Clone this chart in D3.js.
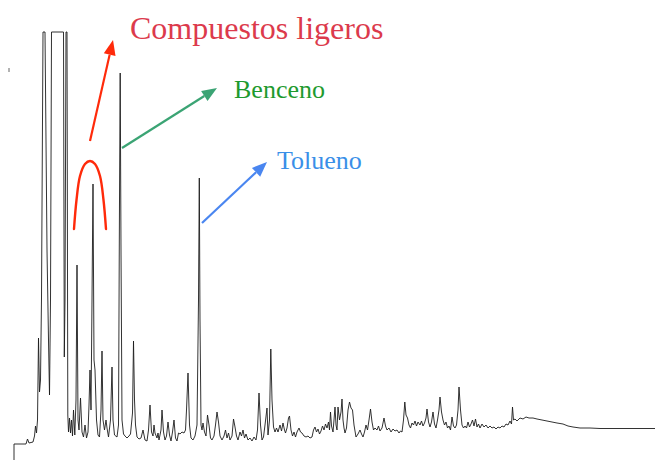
<!DOCTYPE html>
<html>
<head>
<meta charset="utf-8">
<script src="https://cdn.jsdelivr.net/npm/d3@7"></script>
<style>
  html, body { margin: 0; padding: 0; background: #fff; }
  svg { display: block; }
</style>
</head>
<body>
<svg id="chart" width="657" height="466"></svg>
<script>
// Gas chromatogram: retention time (min) vs detector signal (mV).
// Trace points are [retention time, signal]; the detector saturates at 207 mV.

const traceEarly = [
  [0, 1], [1.2, 1], [1.35, 3.5], [1.5, 1.5], [1.9, 2], [2.05, 5], [2.15, 10], [2.25, 6.5],
  [2.35, 13], [2.45, 54], [2.55, 27], [2.65, 33], [2.75, 74], [2.9, 207], [3.1, 207],
  [3.3, 98], [3.45, 53], [3.55, 25.5], [3.65, 73], [3.75, 207], [4.95, 207], [5.03, 44.5],
  [5.1, 73], [5.2, 207], [5.3, 207], [5.38, 15.5], [5.45, 7], [5.55, 14], [5.65, 6.5],
  [5.75, 13], [5.85, 5], [5.95, 18], [6.08, 5.5], [6.2, 23], [6.3, 90.5], [6.4, 13],
  [6.5, 8], [6.65, 24], [6.8, 7], [6.95, 4.5], [7.1, 10.5], [7.25, 4], [7.4, 7], [7.5, 20.5],
  [7.6, 38], [7.7, 18], [7.8, 73], [7.9, 131], [8.0, 43], [8.1, 38], [8.25, 13], [8.4, 5.5],
  [8.55, 4.5], [8.7, 18], [8.8, 47.5], [8.9, 13], [9.05, 8], [9.2, 13], [9.3, 9], [9.45, 4.5],
  [9.65, 13], [9.8, 39.5], [9.9, 13], [10.05, 5.5], [10.3, 4.5], [10.45, 10.5], [10.55, 123],
  [10.62, 186.5], [10.7, 98], [10.8, 13], [10.95, 6], [11.1, 5], [11.3, 4], [11.5, 5],
  [11.65, 6], [11.85, 16.5], [11.95, 52.5], [12.05, 23], [12.15, 10.5], [12.3, 4.5], [12.5, 3.5]
];

const traceMiddle = [
  [12.7, 4], [12.9, 8], [13.1, 3], [13.3, 2.5], [13.45, 8], [13.6, 20.5], [13.75, 7], [13.9, 5],
  [14.0, 10.5], [14.1, 6.5], [14.3, 4], [14.4, 6.5], [14.5, 3], [14.7, 8], [14.8, 18], [14.95, 7],
  [15.1, 3], [15.25, 5], [15.4, 12], [15.55, 5.5], [15.7, 2.5], [15.85, 7], [16.0, 13], [16.15, 4],
  [16.3, 2.5], [16.45, 6.5], [16.6, 6], [16.8, 7], [17.0, 6.5], [17.15, 8], [17.25, 18],
  [17.4, 36.5], [17.55, 10.5], [17.7, 4], [17.9, 3], [18.1, 5], [18.3, 10.5], [18.45, 73],
  [18.53, 134], [18.6, 63], [18.7, 10.5], [18.8, 8], [18.9, 11.5], [19.05, 7], [19.2, 5],
  [19.35, 15.5], [19.5, 10.5], [19.65, 4], [19.8, 3], [20.0, 5], [20.15, 10.5], [20.3, 17],
  [20.45, 12], [20.6, 5], [20.8, 3], [21.0, 5], [21.15, 8], [21.3, 4], [21.45, 6.5], [21.6, 3],
  [21.8, 5], [21.95, 13.5], [22.1, 9.5], [22.25, 5], [22.4, 3], [22.6, 7], [22.75, 5], [22.9, 8],
  [23.05, 4], [23.2, 6], [23.4, 3], [23.6, 4], [23.8, 2.5], [24.0, 4.5], [24.2, 3], [24.35, 8],
  [24.5, 26.5], [24.65, 10.5], [24.8, 3], [24.95, 4.5], [25.1, 10.5], [25.3, 19], [25.4, 5.5],
  [25.55, 13], [25.68, 48.5], [25.8, 23], [25.95, 9.5], [26.1, 7], [26.25, 9], [26.4, 7],
  [26.6, 10.5], [26.75, 7.5], [26.9, 11.5], [27.05, 8], [27.15, 6.5], [27.3, 9], [27.45, 14],
  [27.55, 15], [27.7, 8], [27.85, 5], [28.0, 7], [28.15, 4.5], [28.3, 7], [28.5, 9]
];

const traceLate = [
  [28.65, 7], [28.8, 6.5], [29.0, 5], [29.2, 4.5], [29.4, 5], [29.6, 4], [29.8, 4.5], [29.95, 8],
  [30.1, 9.5], [30.25, 7], [30.4, 8.5], [30.55, 6], [30.7, 7.5], [30.85, 10], [31.0, 8],
  [31.15, 11], [31.3, 9], [31.45, 12], [31.55, 8], [31.65, 17], [31.75, 10], [31.9, 7], [32.0, 13],
  [32.1, 19.5], [32.2, 10.5], [32.3, 8], [32.4, 19.5], [32.55, 13], [32.7, 17], [32.8, 23.5],
  [32.9, 13], [33.0, 9], [33.1, 6.5], [33.25, 9], [33.4, 18], [33.55, 22], [33.7, 19], [33.85, 18],
  [34.0, 10.5], [34.2, 4.5], [34.4, 6], [34.6, 8], [34.75, 6], [34.9, 4.5], [35.05, 7],
  [35.2, 10.5], [35.35, 8], [35.5, 13], [35.65, 18.5], [35.8, 12], [35.95, 8], [36.1, 9],
  [36.3, 8], [36.45, 10], [36.6, 7.5], [36.8, 9], [36.9, 11.5], [37.0, 14], [37.15, 10], [37.3, 8],
  [37.5, 9], [37.7, 7], [37.9, 8.5], [38.1, 7.5], [38.3, 8], [38.5, 6.5], [38.65, 7.5], [38.8, 7],
  [38.95, 13], [39.08, 22], [39.2, 15.5], [39.35, 14], [39.5, 10.5], [39.65, 9], [39.8, 11.5],
  [39.95, 10.5], [40.1, 12.5], [40.25, 10], [40.4, 12], [40.6, 10.5], [40.75, 12.5], [40.9, 10],
  [41.05, 11.5], [41.2, 14], [41.3, 18.5], [41.45, 12], [41.6, 9.5], [41.75, 12], [41.9, 17],
  [42.05, 11], [42.2, 9], [42.35, 13], [42.5, 18], [42.6, 24.5], [42.75, 17], [42.9, 13],
  [43.05, 10.5], [43.2, 12], [43.35, 9], [43.5, 10], [43.65, 8], [43.8, 14.5], [43.95, 10],
  [44.1, 9], [44.25, 10.5], [44.4, 18], [44.5, 29.5], [44.65, 18]
];

const traceTail = [
  [44.8, 10.5], [44.95, 9], [45.1, 10], [45.25, 9], [45.4, 12], [45.55, 9.5], [45.7, 11],
  [45.85, 13], [46.0, 10], [46.15, 13.5], [46.3, 9.5], [46.45, 11], [46.6, 9], [46.8, 11],
  [47.0, 9.5], [47.2, 10.5], [47.4, 9], [47.6, 10], [47.8, 9], [48.0, 9.5], [48.2, 8.5],
  [48.4, 9.5], [48.6, 9], [48.8, 10], [49.0, 9.5], [49.2, 11], [49.4, 10.5], [49.6, 12.5],
  [49.75, 11], [49.85, 19.5], [49.95, 13], [50.1, 13.5], [50.3, 12.5], [50.6, 14], [50.9, 13.5],
  [51.2, 14.5], [51.5, 14], [51.9, 14], [52.3, 13.5], [52.8, 13], [53.3, 12.5], [53.8, 12],
  [54.3, 11.5], [54.9, 11], [55.4, 10], [55.9, 9.5], [56.6, 9], [57.6, 9], [58.6, 8.75],
  [60.6, 8.75], [62.6, 8.75], [64.1, 8.75]
];

// Annotated compounds: label text and the peak each arrow points away from
const labels = ["Compuestos ligeros", "Benceno", "Tolueno"];
const peakTimes = [7.6, 10.8, 18.8];        // arrow start (retention time, min)
const peakSignals = [152.5, 149, 111.5];    // arrow start (signal, mV)

const timeDomain = [0, 64.2];
const signalDomain = [0, 207];

const svg = d3.select("#chart");
const x = d3.scaleLinear().domain(timeDomain).range([14, 656]);
const y = d3.scaleLinear().domain(signalDomain).range([446, 32]);

const trace = traceEarly.concat(traceMiddle, traceLate, traceTail);

const line = d3.line()
  .x(d => x(d[0]))
  .y(d => y(d[1]))
  .curve(d3.curveLinear);

// Stub of the signal axis below the start of the baseline
svg.append("line")
  .attr("x1", x(0)).attr("x2", x(0))
  .attr("y1", y(1)).attr("y2", y(-7))
  .attr("stroke", "#333").attr("stroke-width", 1);

// Stray marker at the upper left
svg.append("line")
  .attr("x1", x(-0.5)).attr("x2", x(-0.5))
  .attr("y1", y(189)).attr("y2", y(187))
  .attr("stroke", "#666").attr("stroke-width", 1);

svg.append("path")
  .datum(trace)
  .attr("d", line)
  .attr("fill", "none")
  .attr("stroke", "#1c1c1c")
  .attr("stroke-width", 0.9)
  .attr("stroke-linejoin", "round");

// Bracket over the light-compound group
const bracket = [
  [6.0, 108.5], [6.25, 123], [6.6, 135], [7.1, 141], [7.6, 142.5],
  [8.1, 141], [8.6, 135], [8.95, 123], [9.2, 108.5]
];
svg.append("path")
  .datum(bracket)
  .attr("d", d3.line().x(d => x(d[0])).y(d => y(d[1])).curve(d3.curveCatmullRom))
  .attr("fill", "none")
  .attr("stroke", "#ff2a0a")
  .attr("stroke-width", 2.4)
  .attr("stroke-linecap", "round");

// Arrows from the peaks towards the labels
function arrow(x0, y0, x1, y1, color, headLen, headWidth) {
  const ang = Math.atan2(y1 - y0, x1 - x0);
  const bx = x1 - headLen * Math.cos(ang), by = y1 - headLen * Math.sin(ang);
  svg.append("line")
    .attr("x1", x0).attr("y1", y0).attr("x2", bx).attr("y2", by)
    .attr("stroke", color).attr("stroke-width", 2.2);
  const px = -Math.sin(ang) * headWidth / 2, py = Math.cos(ang) * headWidth / 2;
  svg.append("path")
    .attr("d", `M${x1},${y1}L${bx + px},${by + py}L${bx - px},${by - py}Z`)
    .attr("fill", color);
}

const arrowEnds = [[9.9, 203], [20.3, 179], [25.3, 142]];
const arrowColors = ["#ff2a0a", "#3ba474", "#4a86f0"];
labels.forEach((_, i) => {
  arrow(x(peakTimes[i]), y(peakSignals[i]), x(arrowEnds[i][0]), y(arrowEnds[i][1]),
        arrowColors[i], 15, 12);
});

// Labels
const labelAnchors = [[11.6, 203.5], [22.0, 174], [26.3, 138.5]];
const labelSizes = [32, 26, 26];
const labelColors = ["#dc3a4c", "#1e9a2e", "#3a8fe8"];
labels.forEach((txt, i) => {
  svg.append("text")
    .attr("x", x(labelAnchors[i][0]))
    .attr("y", y(labelAnchors[i][1]))
    .attr("font-family", "'Liberation Serif', 'Times New Roman', serif")
    .attr("font-size", labelSizes[i])
    .attr("fill", labelColors[i])
    .text(txt);
});
</script>
</body>
</html>
